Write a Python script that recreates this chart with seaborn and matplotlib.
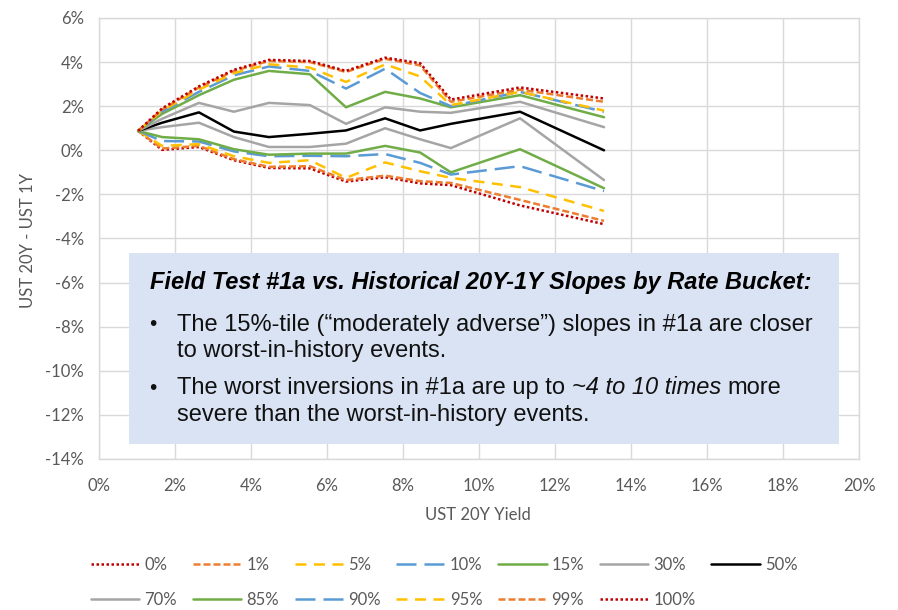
import matplotlib
matplotlib.use("Agg")
import matplotlib.pyplot as plt
import seaborn as sns
from matplotlib.patches import Rectangle
from matplotlib.lines import Line2D
from matplotlib.ticker import FuncFormatter

# ---------------- data ----------------
x_yield = [1.03, 1.66, 2.63, 3.55, 4.47, 5.55, 6.5, 7.53, 8.45, 9.26, 11.08, 13.29]

labels = ["0%", "1%", "5%", "10%", "15%", "30%", "50%",
          "70%", "85%", "90%", "95%", "99%", "100%"]

p0 = [0.88, 0.02, 0.15, -0.45, -0.80, -0.82, -1.42, -1.22, -1.50, -1.58, -2.50, -3.35]
p1 = [0.88, 0.08, 0.20, -0.40, -0.75, -0.72, -1.35, -1.15, -1.40, -1.48, -2.25, -3.20]
p5 = [0.88, 0.20, 0.28, -0.27, -0.57, -0.45, -1.25, -0.55, -0.95, -1.25, -1.67, -2.75]
p10 = [0.88, 0.42, 0.40, -0.05, -0.27, -0.25, -0.27, -0.17, -0.57, -1.10, -0.72, -1.85]
p15 = [0.88, 0.60, 0.50, 0.05, -0.20, -0.15, -0.15, 0.20, -0.10, -1.00, 0.05, -1.72]
p30 = [0.88, 1.05, 1.25, 0.60, 0.15, 0.15, 0.30, 1.00, 0.50, 0.10, 1.45, -1.35]
p50 = [0.88, 1.25, 1.72, 0.85, 0.60, 0.75, 0.90, 1.45, 0.90, 1.20, 1.75, 0.00]
p70 = [0.88, 1.43, 2.15, 1.75, 2.15, 2.05, 1.20, 1.95, 1.75, 1.70, 2.20, 1.05]
p85 = [0.88, 1.65, 2.50, 3.20, 3.60, 3.45, 1.95, 2.65, 2.35, 1.95, 2.50, 1.50]
p90 = [0.88, 1.75, 2.65, 3.40, 3.80, 3.60, 2.80, 3.70, 2.60, 2.00, 2.65, 1.75]
p95 = [0.88, 1.80, 2.75, 3.50, 3.90, 3.75, 3.10, 3.90, 3.35, 2.05, 2.65, 1.80]
p99 = [0.88, 1.85, 2.85, 3.60, 4.05, 4.00, 3.55, 4.15, 3.85, 2.20, 2.75, 2.20]
p100 = [0.88, 1.90, 2.90, 3.65, 4.10, 4.05, 3.60, 4.20, 3.95, 2.30, 2.85, 2.35]

series_values = [p0, p1, p5, p10, p15, p30, p50, p70, p85, p90, p95, p99, p100]

y_ticks = list(range(-14, 7, 2))
x_ticks = list(range(0, 21, 2))

# ---------------- styles ----------------
RED, ORANGE, YELLOW, BLUE = "#C00000", "#ED7D31", "#FFC000", "#5B9BD5"
GREEN, GRAY, BLACK = "#70AD47", "#A5A5A5", "#000000"
dotted = (0, (1, 1))
sq_dash = (0, (2.8, 1.2))
mid_dash = (0, (4.4, 3.0))
long_dash = (0, (8, 3.2))
solid = "-"
style_map = {
    "0%": (RED, dotted), "1%": (ORANGE, sq_dash), "5%": (YELLOW, mid_dash),
    "10%": (BLUE, long_dash), "15%": (GREEN, solid), "30%": (GRAY, solid),
    "50%": (BLACK, solid), "70%": (GRAY, solid), "85%": (GREEN, solid),
    "90%": (BLUE, long_dash), "95%": (YELLOW, mid_dash), "99%": (ORANGE, sq_dash),
    "100%": (RED, dotted),
}

sns.set_theme(style="white")
plt.rcParams['font.family'] = ['Lato', 'DejaVu Sans']

W, H = 898, 610
fig = plt.figure(figsize=(W / 100, H / 100), dpi=100)
fig.patch.set_facecolor("white")


def fx(px):
    return px / W


def fy(py):
    return 1 - py / H


ax_l, ax_r, ax_t, ax_b = 99, 859, 18, 459
ax = fig.add_axes([fx(ax_l), fy(ax_b), (ax_r - ax_l) / W, (ax_b - ax_t) / H])

LW = 1.8
for lab, vals in zip(labels, series_values):
    c, ls = style_map[lab]
    sns.lineplot(x=x_yield, y=vals, ax=ax, color=c, linestyle=ls, linewidth=LW,
                 errorbar=None, sort=False, legend=False)

ax.set_xlim(0, 20)
ax.set_ylim(-14, 6)
ax.set_xticks(x_ticks)
ax.set_yticks(y_ticks)
ax.xaxis.set_major_formatter(FuncFormatter(lambda v, p: f"{v:.0f}%"))
ax.yaxis.set_major_formatter(FuncFormatter(lambda v, p: f"{v:.0f}%"))
ax.grid(True, color="#D9D9D9", linewidth=1.0)
ax.set_axisbelow(True)
for s in ax.spines.values():
    s.set_color("#D9D9D9")
    s.set_linewidth(1.0)
TICKC = "#595959"
FS = 12
ax.tick_params(axis="both", length=0, labelsize=FS, colors=TICKC)
ax.tick_params(axis="y", pad=11)
ax.tick_params(axis="x", pad=14)
ax.set_xlabel("")
ax.set_ylabel("")

fig.text(fx(478), fy(515), "UST 20Y Yield", ha="center", va="center",
         fontsize=FS, color=TICKC)
fig.text(fx(28), fy(240), "UST 20Y - UST 1Y", ha="center", va="center",
         rotation=90, fontsize=FS, color=TICKC)

# ---------------- legend ----------------
handles = []
for lab in labels:
    c, ls = style_map[lab]
    handles.append(Line2D([0], [0], color=c, linestyle=ls, linewidth=LW))
order = []
for c in range(7):
    for r in range(2):
        i = r * 7 + c
        if i < len(labels):
            order.append(i)
fig.legend([handles[i] for i in order], [labels[i] for i in order], ncol=7,
           loc="upper left", bbox_to_anchor=(fx(91), fy(557)), frameon=False,
           fontsize=FS, handlelength=2.9, handletextpad=0.3, columnspacing=0.95,
           labelspacing=1.12, labelcolor=TICKC, borderaxespad=0, borderpad=0)

# ---------------- annotation box ----------------
bx_l, bx_r, bx_t, bx_b = 129, 839, 253, 444
fig.add_artist(Rectangle((fx(bx_l), fy(bx_b)), (bx_r - bx_l) / W, (bx_b - bx_t) / H,
                         transform=fig.transFigure, facecolor="#DAE3F3",
                         edgecolor="none", zorder=5))

TF = ['Liberation Sans', 'DejaVu Sans']
TS = 17
TXTC = "#111111"
fig.text(fx(150), fy(282), "Field Test #1a vs. Historical 20Y-1Y Slopes by Rate Bucket:",
         ha="left", va="center", fontsize=TS, fontweight="bold", fontstyle="italic",
         family=TF, color="black", zorder=6)

bullet_x, text_x = 153, 177
y1, y2, y3, y4 = 325, 351, 388, 415
BS = 15
fig.text(fx(bullet_x), fy(y1), "•", ha="center", va="center", fontsize=BS, family=TF,
         color=TXTC, zorder=6)
fig.text(fx(text_x), fy(y1), "The 15%-tile (\u201cmoderately adverse\u201d) slopes in #1a are closer",
         ha="left", va="center", fontsize=TS, family=TF, color=TXTC, zorder=6)
fig.text(fx(text_x), fy(y2), "to worst-in-history events.",
         ha="left", va="center", fontsize=TS, family=TF, color=TXTC, zorder=6)
fig.text(fx(bullet_x), fy(y3), "•", ha="center", va="center", fontsize=BS, family=TF,
         color=TXTC, zorder=6)

renderer = fig.canvas.get_renderer()


def text_width(s, **kw):
    t = fig.text(0, 0, s, fontsize=TS, family=TF, **kw)
    w = t.get_window_extent(renderer).width
    t.remove()
    return w


space_w = text_width("a a") - text_width("aa")
parts = [("The worst inversions in #1a are up to", "normal"),
         ("~4 to 10 times", "italic"),
         ("more", "normal")]
cur = text_x
for s, st in parts:
    fig.text(fx(cur), fy(y3), s, ha="left", va="center", fontsize=TS, family=TF,
             fontstyle=st, color=TXTC, zorder=6)
    cur += text_width(s, fontstyle=st) + space_w
fig.text(fx(text_x), fy(y4), "severe than the worst-in-history events.",
         ha="left", va="center", fontsize=TS, family=TF, color=TXTC, zorder=6)

fig.savefig("out.png", dpi=100)
